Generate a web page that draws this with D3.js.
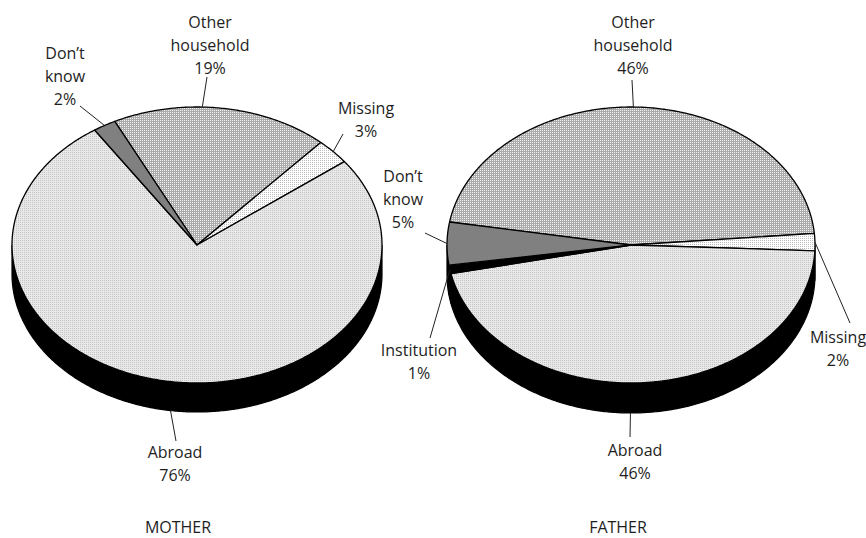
<!DOCTYPE html>
<html>
<head>
<meta charset="utf-8">
<script src="https://cdn.jsdelivr.net/npm/d3@7"></script>
<style>
  html, body { margin: 0; padding: 0; background: #fff; }
  svg { display: block; }
  text { font-family: "Open Sans", "Noto Sans", sans-serif; font-size: 16px; fill: #1e1e1e; }
</style>
</head>
<body>
<svg id="chart" width="866" height="538"></svg>
<script>
// Where the respondent's mother / father lives
const motherCategories = ["Other household", "Missing", "Abroad", "Don’t know"];
const motherValues     = [19, 3, 76, 2];

const fatherCategories = ["Other household", "Missing", "Abroad", "Institution", "Don’t know"];
const fatherValues     = [46, 2, 46, 1, 5];

const chartTitles = ["MOTHER", "FATHER"];

// Slice fills (patterns defined below)
const fills = {
  "Other household": "url(#patOther)",
  "Missing": "url(#patMissing)",
  "Abroad": "url(#patAbroad)",
  "Don’t know": "#808080",
  "Institution": "#000000"
};

// Label placement: text centre x, first baseline, leader start, where along the
// slice the leader meets the rim (0..1), and whether it runs to the wall bottom
const motherLabels = {
  "Other household": { lines: ["Other", "household"], x: 210, y: 28, lx: 207, ly: 77, at: 0.41 },
  "Missing":         { lines: ["Missing"], x: 366, y: 114, lx: 343, ly: 134 },
  "Abroad":          { lines: ["Abroad"], x: 175, y: 458, lx: 176, ly: 441, at: 0.495, wall: true },
  "Don’t know":      { lines: ["Don’t", "know"], x: 65, y: 59, lx: 80, ly: 106 }
};
const fatherLabels = {
  "Other household": { lines: ["Other", "household"], x: 633, y: 28, lx: 632, ly: 80, at: 0.49 },
  "Missing":         { lines: ["Missing"], x: 838, y: 343, lx: 850, ly: 323 },
  "Abroad":          { lines: ["Abroad"], x: 635, y: 456, lx: 630, ly: 437, at: 0.53, wall: true },
  "Institution":     { lines: ["Institution"], x: 419, y: 356, lx: 430, ly: 338 },
  "Don’t know":      { lines: ["Don’t", "know"], x: 403, y: 182, lx: 425, ly: 233 }
};

const svg = d3.select("#chart");
const defs = svg.append("defs");

// Fine dot textures
function pattern(id, size, bg, cells) {
  const p = defs.append("pattern").attr("id", id)
    .attr("patternUnits", "userSpaceOnUse").attr("width", size).attr("height", size);
  p.append("rect").attr("width", size).attr("height", size).attr("fill", bg)
    .attr("shape-rendering", "crispEdges");
  cells.forEach(c => p.append("rect").attr("x", c[0]).attr("y", c[1])
    .attr("width", c[2]).attr("height", c[3]).attr("fill", c[4])
    .attr("shape-rendering", "crispEdges"));
}
pattern("patAbroad", 2, "#e9e9e9", [[0, 0, 1, 1, "#c4c4c4"]]);
pattern("patOther", 2, "#ababab", [[0, 0, 1, 1, "#f2f2f2"]]);
pattern("patMissing", 2, "#ffffff", [[0, 0, 1, 1, "#bcbcbc"]]);

const TAU = 2 * Math.PI;
const line = d3.line();

function drawPie(cfg) {
  const { cx, cy, rx, ry, depth, start, categories, values, labels, title, tx } = cfg;
  const g = svg.append("g");

  const arcs = d3.pie().sort(null).startAngle(start).endAngle(start + TAU)
    .value((d, i) => values[i])(categories);

  const pt = (a, dy = 0) => [cx + rx * Math.sin(a), cy - ry * Math.cos(a) + dy];
  const samples = (a0, a1, dy = 0) => {
    const n = Math.max(2, Math.ceil(Math.abs(a1 - a0) / 0.01));
    return d3.range(n + 1).map(i => pt(a0 + (a1 - a0) * i / n, dy));
  };

  // Side wall: only the front half (angles between π/2 and 3π/2) is visible
  arcs.forEach(d => {
    [-TAU, 0, TAU].forEach(k => {
      const s = Math.max(d.startAngle + k, Math.PI / 2);
      const e = Math.min(d.endAngle + k, 3 * Math.PI / 2);
      if (e <= s) return;
      const pts = samples(s, e).concat(samples(e, s, depth));
      g.append("path").attr("d", line(pts) + "Z")
        .attr("fill", "#000").attr("stroke", "#000").attr("stroke-width", 1.2);
    });
  });

  // Top face slices
  arcs.forEach(d => {
    const pts = [[cx, cy]].concat(samples(d.startAngle, d.endAngle));
    g.append("path").attr("d", line(pts) + "Z")
      .attr("fill", fills[d.data])
      .attr("stroke", "#000").attr("stroke-width", 1.3)
      .attr("stroke-linejoin", "round");
  });

  // Labels with leader lines
  arcs.forEach(d => {
    const L = labels[d.data];
    const f = L.at === undefined ? 0.5 : L.at;
    const a = d.startAngle + (d.endAngle - d.startAngle) * f;
    const end = pt(a, L.wall ? depth : 0);
    g.append("line")
      .attr("x1", L.lx).attr("y1", L.ly).attr("x2", end[0]).attr("y2", end[1])
      .attr("stroke", "#222").attr("stroke-width", 1);
    const t = g.append("text").attr("text-anchor", "middle");
    L.lines.concat([d3.format("d")(d.value) + "%"]).forEach((s, i) => {
      t.append("tspan").attr("x", L.x).attr("y", L.y + i * 23).text(s);
    });
  });

  g.append("text").attr("x", tx).attr("y", 533).attr("text-anchor", "middle").text(title);
}

drawPie({
  cx: 197, cy: 245, rx: 185, ry: 138, depth: 29, start: -26.4 * Math.PI / 180,
  categories: motherCategories, values: motherValues, labels: motherLabels,
  title: chartTitles[0], tx: 178
});
drawPie({
  cx: 631, cy: 245, rx: 184, ry: 138, depth: 30, start: -80.4 * Math.PI / 180,
  categories: fatherCategories, values: fatherValues, labels: fatherLabels,
  title: chartTitles[1], tx: 618
});
</script>
</body>
</html>
